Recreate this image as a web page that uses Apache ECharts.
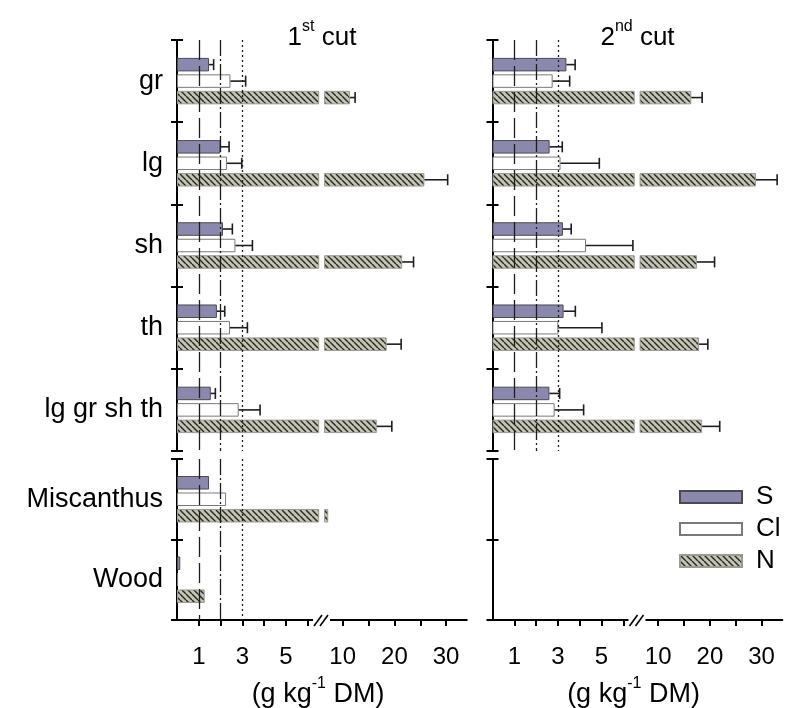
<!DOCTYPE html>
<html><head><meta charset="utf-8">
<script src="https://cdn.jsdelivr.net/npm/echarts@6/dist/echarts.min.js"></script>
<style>html,body{margin:0;padding:0;background:#fff}#c{width:797px;height:708px}</style>
</head><body><div id="c"></div>
<script>
// ---------------- data ----------------
const categoriesTop = ['gr', 'lg', 'sh', 'th', 'lg gr sh th'];
const categoriesBottom = ['Miscanthus', 'Wood'];
const seriesNames = ['S', 'Cl', 'N'];

// 1st cut (g kg-1 DM)
const cut1_S = [1.47, 1.99, 2.11, 1.83, 1.55];
const cut1_S_err = [0.21, 0.40, 0.43, 0.36, 0.21];
const cut1_Cl = [2.45, 2.29, 2.68, 2.43, 2.83];
const cut1_Cl_err = [0.70, 0.68, 0.78, 0.80, 0.98];
const cut1_N = [11.4, 25.8, 21.5, 18.5, 16.6];
const cut1_N_err = [1.0, 4.5, 2.2, 2.8, 2.9];
const cut1_bottom_S = [1.47, 0.15];
const cut1_bottom_Cl = [2.25, 0.05];
const cut1_bottom_N = [7.2, 1.27];

// 2nd cut
const cut2_S = [3.39, 2.62, 3.23, 3.26, 2.61];
const cut2_S_err = [0.40, 0.58, 0.38, 0.54, 0.47];
const cut2_Cl = [2.76, 3.12, 4.29, 3.02, 2.85];
const cut2_Cl_err = [0.78, 1.78, 2.15, 2.00, 1.33];
const cut2_N = [16.4, 28.9, 17.5, 17.9, 18.5];
const cut2_N_err = [2.1, 4.1, 3.4, 1.7, 3.4];

// axis ticks / labels
const xTicksLow = [1, 2, 3, 4, 5, 6];
const xLabelsLow = [1, 3, 5];
const xTicksHigh = [10, 15, 20, 25, 30];
const xLabelsHigh = [10, 20, 30];
const xRangeLow = [0, 6.5];
const xRangeHigh = [6.5, 34];
const refLines = [1, 2, 3];
const panelTitles = [['1', 'st', ' cut'], ['2', 'nd', ' cut']];
const unitLabel = ['(g kg', '-1', ' DM)'];

// ---------------- styling / layout ----------------
const FONT = 'Liberation Sans, Arial, Helvetica, sans-serif';
const BW = 13.5, GAP_RATIO = 0.22, GAP = BW * GAP_RATIO;
const panelX0 = [177, 492.5];
const SEG1_W = 141.7, SEG2_OFF = 147.6, SEG2_W = 142.2;
const rowsLayout = [{top: 40, height: 411}, {top: 459, height: 161}];

function hatchCanvas() {
  const s = 6, c = document.createElement('canvas');
  c.width = s; c.height = s;
  const g = c.getContext('2d');
  g.fillStyle = '#c4c4b3'; g.fillRect(0, 0, s, s);
  g.strokeStyle = '#262626'; g.lineWidth = 1.4;
  g.beginPath();
  for (const a of [-s, 0, s]) { g.moveTo(a, 0); g.lineTo(a + s, s); }
  g.stroke();
  return c;
}
const hatch = {image: hatchCanvas(), repeat: 'repeat'};
const barStyles = {
  S: {color: '#8a89ad', borderColor: '#4a4a55', borderWidth: 1},
  Cl: {color: '#ffffff', borderColor: '#7a7a7a', borderWidth: 1},
  N: {color: hatch, borderColor: '#9a9a90', borderWidth: 1}
};
const refStyles = [[20, 6], [16, 3, 2, 3], [2, 3]];

const panels = [
  {rows: [
    {cats: categoriesTop, vals: [cut1_S, cut1_Cl, cut1_N], errs: [cut1_S_err, cut1_Cl_err, cut1_N_err], ref: true},
    {cats: categoriesBottom, vals: [cut1_bottom_S, cut1_bottom_Cl, cut1_bottom_N], errs: null, ref: true}
  ]},
  {rows: [
    {cats: categoriesTop, vals: [cut2_S, cut2_Cl, cut2_N], errs: [cut2_S_err, cut2_Cl_err, cut2_N_err], ref: true},
    {cats: categoriesBottom, vals: null, errs: null, ref: false}
  ]}
];

const grids = [], xAxes = [], yAxes = [], series = [];
const axisLineStyle = {color: '#000', width: 2};

function renderErr(params, api) {
  const v = api.value(0), ci = api.value(1), e = api.value(2), slot = api.value(3);
  const c1 = api.coord([v, ci]), c2 = api.coord([v + e, ci]);
  const off = -(3 * BW + 2 * GAP) / 2 + slot * (BW + GAP) + BW / 2;
  const y = c1[1] + off;
  const st = {stroke: '#1e1e1e', lineWidth: 1.6};
  return {type: 'group', children: [
    {type: 'line', shape: {x1: c1[0], y1: y, x2: c2[0], y2: y}, style: st},
    {type: 'line', shape: {x1: c2[0], y1: y - 5.5, x2: c2[0], y2: y + 5.5}, style: st}
  ]};
}

panels.forEach((panel, p) => {
  panel.rows.forEach((row, r) => {
    [0, 1].forEach(s => {
      const gi = grids.length;
      grids.push({
        left: s === 0 ? panelX0[p] : panelX0[p] + SEG2_OFF,
        top: rowsLayout[r].top,
        width: s === 0 ? SEG1_W : SEG2_W,
        height: rowsLayout[r].height
      });
      const range = s === 0 ? xRangeLow : xRangeHigh;
      const xi = xAxes.length;
      xAxes.push({
        gridIndex: gi, type: 'value', min: range[0], max: range[1],
        show: r === 1,
        axisLine: {show: true, lineStyle: axisLineStyle},
        axisTick: {show: true, length: 6, customValues: s === 0 ? xTicksLow : xTicksHigh, lineStyle: {color: '#000', width: 2}},
        axisLabel: {customValues: s === 0 ? xLabelsLow : xLabelsHigh, fontSize: 24, color: '#000', fontFamily: FONT, margin: 25},
        splitLine: {show: false}
      });
      const yi = yAxes.length;
      yAxes.push({
        gridIndex: gi, type: 'category', inverse: true, data: row.cats, position: 'left',
        show: s === 0,
        axisLine: {show: true, lineStyle: axisLineStyle},
        axisTick: {show: true, length: 6, lineStyle: {color: '#000', width: 2}},
        axisLabel: {show: p === 0, fontSize: 27, color: '#000', fontFamily: FONT, margin: 14},
        splitLine: {show: false}
      });
      if (s === 0) {
        yAxes.push({
          gridIndex: gi, type: 'category', inverse: true, data: row.cats, position: 'left',
          axisLine: {show: false},
          axisTick: {show: true, inside: true, length: 6, lineStyle: {color: '#000', width: 2}},
          axisLabel: {show: false}, splitLine: {show: false}
        });
      }
      if (!row.vals) return;
      seriesNames.forEach((nm, k) => {
        const data = row.vals[k].map(v => (s === 0 || v >= range[0]) ? v : '-');
        const ser = {
          type: 'bar', name: nm, xAxisIndex: xi, yAxisIndex: yi, data,
          barWidth: BW, barGap: (GAP_RATIO * 100) + '%', clip: true, silent: true,
          itemStyle: barStyles[nm], animation: false
        };
        if (k === 0 && s === 0 && row.ref) {
          ser.markLine = {
            silent: true, symbol: ['none', 'none'], label: {show: false}, animation: false,
            data: refLines.map((v, i) => ({xAxis: v, lineStyle: {type: refStyles[i], color: '#1e1e1e', width: 1.3}}))
          };
        }
        series.push(ser);
      });
      if (row.errs) {
        const items = [];
        seriesNames.forEach((nm, k) => {
          row.vals[k].forEach((v, ci) => {
            const e = row.errs[k][ci];
            const inSeg = s === 0 ? (v + e <= range[1]) : (v >= range[0]);
            if (inSeg) items.push([v, ci, e, k]);
          });
        });
        series.push({
          type: 'custom', name: 'err', xAxisIndex: xi, yAxisIndex: yi, data: items,
          encode: {x: 0, y: 1}, renderItem: renderErr, silent: true, animation: false, z: 5
        });
      }
    });
  });
});

// decorations: titles, units, axis break marks
const graphics = [];
panels.forEach((panel, p) => {
  const cx = panelX0[p] + 145;
  const t = panelTitles[p];
  graphics.push({
    type: 'text', x: cx, y: 35,
    style: {
      text: '{a|' + t[0] + '}{s|' + t[1] + '}{a|' + t[2] + '}',
      align: 'center', verticalAlign: 'middle',
      rich: {
        a: {fontSize: 26, fontFamily: FONT, fill: '#000', lineHeight: 32, verticalAlign: 'bottom'},
        s: {fontSize: 16, fontFamily: FONT, fill: '#000', lineHeight: 32, verticalAlign: 'top'}
      }
    }
  });
  graphics.push({
    type: 'text', x: cx - 4, y: 692,
    style: {
      text: '{a|' + unitLabel[0] + '}{s|' + unitLabel[1] + '}{a|' + unitLabel[2] + '}',
      align: 'center', verticalAlign: 'middle',
      rich: {
        a: {fontSize: 27, fontFamily: FONT, fill: '#000', lineHeight: 32, verticalAlign: 'bottom'},
        s: {fontSize: 16, fontFamily: FONT, fill: '#000', lineHeight: 32, verticalAlign: 'top'}
      }
    }
  });
  const bx = panelX0[p] + 136;
  const yb = rowsLayout[1].top + rowsLayout[1].height;
  graphics.push({type: 'rect', shape: {x: bx, y: yb - 3, width: 17, height: 6}, style: {fill: '#fff'}, z: 100});
  graphics.push({type: 'line', shape: {x1: bx + 1, y1: yb + 6, x2: bx + 9, y2: yb - 5}, style: {stroke: '#000', lineWidth: 1.6}, z: 101});
  graphics.push({type: 'line', shape: {x1: bx + 7, y1: yb + 6, x2: bx + 15, y2: yb - 5}, style: {stroke: '#000', lineWidth: 1.6}, z: 101});
});

const chart = echarts.init(document.getElementById('c'), null, {renderer: 'canvas'});
chart.setOption({
  animation: false,
  backgroundColor: '#fff',
  grid: grids, xAxis: xAxes, yAxis: yAxes, series,
  legend: {
    data: seriesNames, orient: 'vertical', left: 679, top: 484, padding: 0,
    icon: 'rect', itemWidth: 62, itemHeight: 12, itemGap: 6,
    selectedMode: false,
    textStyle: {fontSize: 26, lineHeight: 25, color: '#000', fontFamily: FONT, padding: [0, 0, 0, 9]}
  },
  graphic: graphics
});
</script></body></html>
